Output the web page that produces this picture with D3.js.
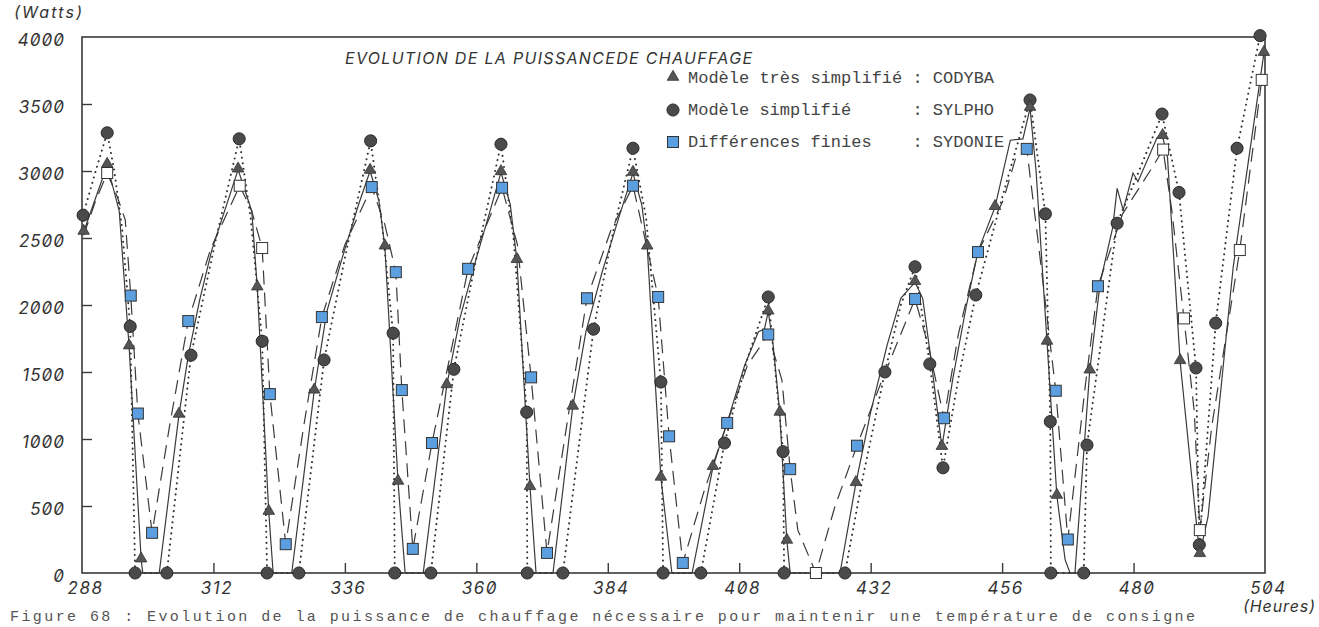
<!DOCTYPE html>
<html>
<head>
<meta charset="utf-8">
<script src="https://cdn.jsdelivr.net/npm/d3@7"></script>
<style>
  html, body { margin: 0; padding: 0; background: #fff; overflow: hidden; }
  svg { display: block; }
  .tick text, .unit, .title { font-family: Inter, "DejaVu Sans", sans-serif; font-style: italic; font-feature-settings: "zero" 1; fill: #333; }
  .legend text { font-family: "Liberation Mono", "DejaVu Sans Mono", monospace; fill: #444; white-space: pre; }
</style>
</head>
<body>
<svg id="chart" width="1319" height="627"></svg>
<script>
// ---- data (hours, watts, marker flag: 0 none, 1 filled marker, 2 hollow marker) ----
const xTicks = [288, 312, 336, 360, 384, 408, 432, 456, 480, 504];
const yTicks = [0, 500, 1000, 1500, 2000, 2500, 3000, 3500, 4000];

const seriesNames = ["Modèle très simplifié : CODYBA", "Modèle simplifié      : SYLPHO", "Différences finies    : SYDONIE"];

const codyba = [
  [288.3,2545,1],[290.5,2800,0],[292.6,3045,1],[294.8,2700,0],[296.6,1690,1],[298.8,100,1],[299.1,0,0],
  [302.1,0,0],[305.7,1180,1],[307.4,1620,0],[309.5,2040,0],[311.7,2410,0],[314.5,2760,0],[316.5,3010,1],
  [319.0,2700,0],[320.0,2130,1],[322.1,455,1],[322.9,0,0],[326.3,0,0],[330.4,1360,1],[332.7,1950,0],
  [335.5,2350,0],[338.5,2750,0],[340.6,3000,1],[342.2,2780,0],[343.3,2435,1],[345.7,680,1],[347.0,0,0],
  [350.3,0,0],[354.6,1400,1],[357.0,1900,0],[360.0,2350,0],[362.5,2700,0],[364.5,2990,1],[366.2,2750,0],
  [367.4,2335,1],[369.8,640,1],[370.9,0,0],[374.0,0,0],[377.6,1240,1],[380.0,1800,0],[383.0,2250,0],
  [386.0,2650,0],[388.6,2985,1],[390.2,2750,0],[391.2,2435,1],[393.7,710,1],[395.7,0,0],[399.4,0,0],
  [403.2,790,1],[406.0,1150,0],[409.0,1550,0],[411.5,1800,0],[412.6,1820,0],[413.3,1950,1],[414.2,1700,0],
  [415.4,1195,1],[416.7,240,1],[417.3,0,0],[426.4,0,0],[429.3,670,1],[432.0,1200,0],[435.0,1700,0],
  [437.5,2050,0],[440.1,2170,1],[441.5,2050,0],[443.0,1600,0],[445.0,940,1],[447.0,1450,0],[449.5,2000,0],
  [451.6,2400,0],[454.7,2730,1],[457.5,3230,0],[459.8,3240,0],[461.1,3470,1],[462.2,3000,0],[464.2,1725,1],
  [466.0,575,1],[467.5,100,0],[468.4,0,0],[469.3,0,0],[472.0,1510,1],[473.9,2165,0],[476.2,2580,0],
  [477.0,2870,0],[478.1,2710,0],[479.9,2985,0],[480.8,2920,0],[484.3,3250,0],[485.3,3260,1],[486.2,3100,0],
  [488.5,1580,1],[491.6,320,0],[492.1,140,1],[493.6,420,0],[498.2,2285,0],[503.8,3880,1]
];

const sylpho = [
  [288.2,2670,1],[290.5,3000,0],[292.6,3285,1],[293.9,3000,0],[295.3,2580,0],[296.8,1840,1],[297.7,0,1],
  [303.5,0,1],[307.9,1625,1],[312.5,2500,0],[316.7,3240,1],[318.8,2650,0],[320.9,1730,1],[321.8,0,1],
  [327.6,0,1],[332.2,1590,1],[336.5,2450,0],[340.7,3225,1],[342.8,2600,0],[344.8,1790,1],[345.1,0,1],
  [351.7,0,1],[355.9,1520,1],[360.5,2450,0],[364.5,3200,1],[366.8,2500,0],[369.2,1200,1],[369.3,0,1],
  [375.8,0,1],[381.4,1820,1],[385.0,2550,0],[388.6,3170,1],[391.0,2650,0],[393.7,1425,1],[394.1,0,1],
  [401.0,0,1],[405.3,970,1],[409.5,1600,0],[413.3,2060,1],[416.0,905,1],[416.2,0,1],[427.3,0,1],
  [430.5,700,0],[434.6,1500,1],[437.5,2000,0],[440.1,2285,1],[442.8,1560,1],[445.2,785,1],[448.0,1450,0],
  [451.2,2075,1],[456.0,2800,0],[461.1,3530,1],[463.9,2680,1],[464.8,1130,1],[464.9,0,1],[470.9,0,1],
  [471.5,955,1],[477.0,2610,1],[481.0,3000,0],[485.2,3425,1],[488.3,2840,1],[491.4,1530,1],[492.0,210,1],
  [495.0,1865,1],[498.9,3170,1],[503.1,4010,1]
];

const sydonie = [
  [288.3,2520,0],[290.5,2780,0],[292.6,2985,2],[294.5,2800,0],[295.9,2635,0],[296.9,2070,1],[298.2,1190,1],
  [300.8,300,1],[304.0,1100,0],[307.4,1880,1],[311.5,2420,0],[316.8,2890,2],[319.0,2700,0],[320.9,2425,2],
  [322.3,1335,1],[325.2,215,1],[328.5,1100,0],[331.8,1910,1],[336.0,2450,0],[340.9,2880,1],[343.3,2600,0],
  [345.3,2245,1],[346.4,1365,1],[348.4,180,1],[351.9,970,1],[358.5,2270,1],[364.7,2875,1],[367.5,2450,0],
  [370.0,1460,1],[372.9,150,1],[376.5,1100,0],[380.2,2050,1],[384.5,2550,0],[388.6,2890,1],[393.2,2060,1],
  [395.2,1020,1],[397.7,75,1],[401.5,600,0],[405.8,1120,1],[409.5,1550,0],[413.3,1780,1],[415.8,1440,0],
  [417.3,775,1],[418.7,320,0],[422.0,0,2],[425.5,500,0],[429.5,950,1],[433.7,1400,0],[440.1,2045,1],
  [442.5,1700,0],[445.4,1155,1],[448.0,1780,0],[451.6,2395,1],[456.2,2780,0],[458.5,3100,0],[460.5,3165,1],
  [462.5,2500,0],[465.8,1360,1],[468.0,250,1],[471.2,1400,0],[473.5,2140,1],[478.0,2680,0],[483.0,3000,0],
  [485.4,3160,2],[487.0,2700,0],[489.2,1900,2],[491.1,1200,0],[492.1,320,2],[494.3,1100,0],[499.4,2410,2],
  [503.4,3680,2]
];

const titleText = "EVOLUTION DE LA PUISSANCEDE CHAUFFAGE";
const yUnit = "(Watts)";
const xUnit = "(Heures)";
const caption = "Figure 68 : Evolution de la puissance de chauffage nécessaire pour maintenir une température de consigne";

// ---- drawing ----
const svg = d3.select("#chart");
const x = d3.scaleLinear().domain([288, 504]).range([82, 1265]);
const y = d3.scaleLinear().domain([0, 4000]).range([573, 37]);

const ink = "#3a3a3a";
const blue = "#5b9fe0";

// frame
svg.append("rect")
  .attr("x", x(288)).attr("y", y(4000))
  .attr("width", x(504) - x(288)).attr("height", y(0) - y(4000))
  .attr("fill", "none").attr("stroke", ink).attr("stroke-width", 1.6);

const fmt = d => String(d);

// x axis
const xAxis = d3.axisBottom(x).tickValues(xTicks).tickSize(-10).tickPadding(9).tickFormat(fmt);
const gx = svg.append("g").attr("transform", `translate(0,${y(0)})`).call(xAxis);
gx.select(".domain").remove();
gx.selectAll(".tick line").attr("stroke", ink).attr("stroke-width", 1.4)
  .attr("display", d => (d === 288 || d === 504) ? "none" : null);
gx.selectAll(".tick text").attr("font-size", 17).attr("letter-spacing", 1.5).attr("dx", 3).attr("fill", "#333");

// y axis
const yAxis = d3.axisLeft(y).tickValues(yTicks).tickSize(-10).tickPadding(17).tickFormat(fmt);
const gy = svg.append("g").attr("transform", `translate(${x(288)},0)`).call(yAxis);
gy.select(".domain").remove();
gy.selectAll(".tick line").attr("stroke", ink).attr("stroke-width", 1.4)
  .attr("display", d => (d === 0 || d === 4000) ? "none" : null);
gy.selectAll(".tick text").attr("font-size", 17).attr("letter-spacing", 1).attr("dy", "0.52em").attr("fill", "#333");

// units
svg.append("text").attr("class", "unit").attr("x", 14).attr("y", 18).attr("font-size", 16)
  .attr("textLength", 68).attr("lengthAdjust", "spacing").text(yUnit);
svg.append("text").attr("class", "unit").attr("x", 1243).attr("y", 612).attr("font-size", 16)
  .attr("textLength", 72).attr("lengthAdjust", "spacing").text(xUnit);

// title
svg.append("text").attr("class", "title").attr("x", 345).attr("y", 64).attr("font-size", 16)
  .attr("textLength", 407).attr("lengthAdjust", "spacing").text(titleText);

// lines
const line = d3.line().x(d => x(d[0])).y(d => y(d[1]));
svg.append("path").datum(sydonie).attr("d", line).attr("fill", "none")
  .attr("stroke", ink).attr("stroke-width", 1.2).attr("stroke-dasharray", "14,8");
svg.append("path").datum(sylpho).attr("d", line).attr("fill", "none")
  .attr("stroke", "#333").attr("stroke-width", 2).attr("stroke-linecap", "round").attr("stroke-dasharray", "0.1,5.5");
svg.append("path").datum(codyba).attr("d", line).attr("fill", "none")
  .attr("stroke", ink).attr("stroke-width", 1.2);

// markers
const circ = d3.symbol().type(d3.symbolCircle).size(115);
const tri = d3.symbol().type(d3.symbolTriangle).size(58);

svg.append("g").selectAll("path").data(sylpho.filter(d => d[2] > 0)).join("path")
  .attr("d", circ).attr("transform", d => `translate(${x(d[0])},${y(d[1])})`)
  .attr("fill", "#4a4a4a").attr("stroke", "#2a2a2a").attr("stroke-width", 1);

svg.append("g").selectAll("path").data(codyba.filter(d => d[2] > 0)).join("path")
  .attr("d", tri).attr("transform", d => `translate(${x(d[0])},${y(d[1]) - 1})`)
  .attr("fill", "#555").attr("stroke", "#333").attr("stroke-width", 0.8);

const sq = 11;
svg.append("g").selectAll("rect").data(sydonie.filter(d => d[2] > 0)).join("rect")
  .attr("x", d => x(d[0]) - sq / 2).attr("y", d => y(d[1]) - sq / 2)
  .attr("width", sq).attr("height", sq)
  .attr("fill", d => d[2] === 1 ? blue : "#fff")
  .attr("stroke", "#333").attr("stroke-width", 1);

// legend
const lg = svg.append("g").attr("class", "legend");
const rows = [78, 110, 142];
lg.append("path").attr("d", tri).attr("transform", `translate(673,${rows[0] - 1})`)
  .attr("fill", "#555").attr("stroke", "#333").attr("stroke-width", 0.8);
lg.append("path").attr("d", circ).attr("transform", `translate(673,${rows[1]})`)
  .attr("fill", "#4a4a4a").attr("stroke", "#2a2a2a");
lg.append("rect").attr("x", 673 - sq / 2).attr("y", rows[2] - sq / 2).attr("width", sq).attr("height", sq)
  .attr("fill", blue).attr("stroke", "#333");
seriesNames.forEach((n, i) => {
  lg.append("text").attr("x", 688).attr("y", rows[i] + 5).attr("font-size", 17)
    .attr("xml:space", "preserve").text(n);
});

// caption along the bottom edge
svg.append("text").attr("x", 10).attr("y", 621)
  .attr("font-family", "'Liberation Mono', monospace").attr("font-size", 15).attr("fill", "#555")
  .attr("textLength", 1185).attr("lengthAdjust", "spacing").text(caption);
</script>
</body>
</html>
